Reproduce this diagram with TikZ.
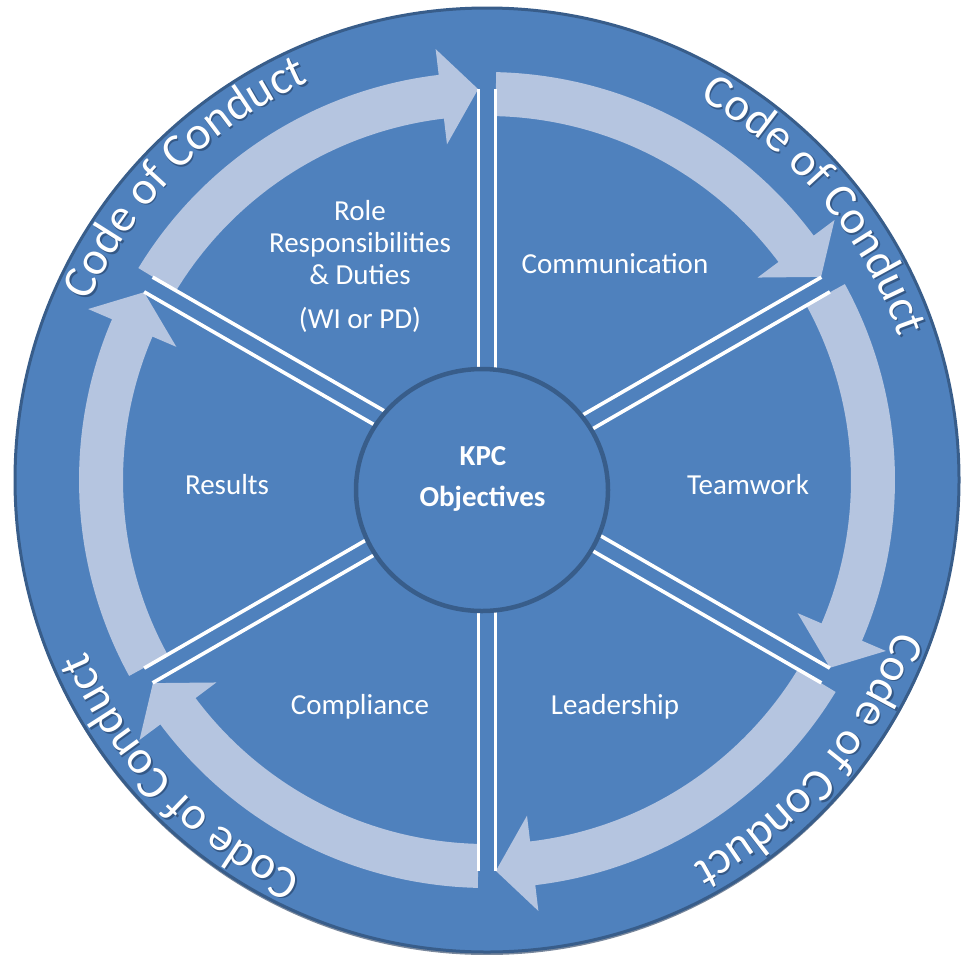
\documentclass[tikz,border=0pt]{standalone}
\usepackage{fontspec}
\setmainfont{Carlito}
\usetikzlibrary{decorations.text}
\definecolor{bgblue}{RGB}{79,129,189}
\definecolor{rimblue}{RGB}{56,93,138}
\definecolor{ringfill}{RGB}{181,197,224}
\definecolor{shadowblue}{RGB}{30,55,90}
\newcommand{\cocfont}{\fontsize{47}{50}\selectfont}
\newcommand{\kpcarrow}[2]{%
  \fill[ringarrow] (#1:408) arc[start angle=#1, end angle=#2+5.5, radius=408]
    -- (#2+5.5:434) -- (#2:391) -- (#2+5.5:338) -- (#2+5.5:364)
    arc[start angle=#2+5.5, end angle=#1, radius=364] -- cycle;}
\tikzset{
  ringarrow/.style={fill=ringfill},
  spoke/.style={draw=white, line width=3.6pt},
  rim/.style={draw=rimblue, line width=3pt, fill=bgblue},
  hubring/.style={draw=rimblue, line width=4.5pt, fill=bgblue},
  lbl/.style={text=white, font=\fontsize{29}{31.5}\selectfont, anchor=base, inner sep=0pt},
  hublbl/.style={text=white, font=\fontsize{29}{31.5}\selectfont\bfseries, anchor=base, inner sep=0pt}
}
\begin{document}
\begin{tikzpicture}[x=1pt,y=1pt]
\useasboundingbox (0,0) rectangle (961,-954);
\fill[white] (0,0) rectangle (961,-954);
\coordinate (C) at (487,-480);
\begin{scope}[shift={(C)}]
  \fill[shadowblue, opacity=0.6] (0,-3) circle[radius=472];
  \draw[rim] (0,0) circle[radius=472];
  \foreach \t in {150,90,30,-30,-90,-150}{
    \pgfmathsetmacro\ta{\t-1.3}
    \pgfmathsetmacro\tb{\t-60+1.3}
    \kpcarrow{\ta}{\tb}
  }
  \foreach \t in {150,90,30,-30,-90,-150}{
    \draw[spoke] ([shift={(\t+90:8.5)}]\t:100) -- ([shift={(\t+90:8.5)}]\t:391);
    \draw[spoke] ([shift={(\t-90:8.5)}]\t:100) -- ([shift={(\t-90:8.5)}]\t:391);
  }
  \foreach \c in {135,40,-41,-136}{
    \begin{scope}[shift={(1.6,-1.6)}, opacity=0.55]
      \path[decorate, decoration={text along path, text align=center, text color=shadowblue,
        text={|\cocfont|Code of Conduct}}]
        (\c+40:436) arc[start angle=\c+40, end angle=\c-40, radius=436];
    \end{scope}
    \path[decorate, decoration={text along path, text align=center, text color=white,
      text={|\cocfont|Code of Conduct}}]
      (\c+40:436) arc[start angle=\c+40, end angle=\c-40, radius=436];
  }
\end{scope}
\draw[hubring] (482,-490) ellipse[x radius=126, y radius=121];
\node[hublbl] (kpc) at (483,-465) {KPC};
\node[hublbl] (obj) at (482.5,-506) {Objectives};
\node[lbl] (role1) at (360,-220) {Role};
\node[lbl] (role2) at (360,-252.5) {Responsibilities};
\node[lbl] (role3) at (360,-284.5) {\& Duties};
\node[lbl] (role4) at (360,-328.5) {(WI or PD)};
\node[lbl] (comm) at (615,-273.5) {Communication};
\node[lbl] (team) at (748,-494) {Teamwork};
\node[lbl] (res) at (227,-494) {Results};
\node[lbl] (lead) at (615,-714.5) {Leadership};
\node[lbl] (comp) at (360,-714.5) {Compliance};
\end{tikzpicture}
\end{document}
